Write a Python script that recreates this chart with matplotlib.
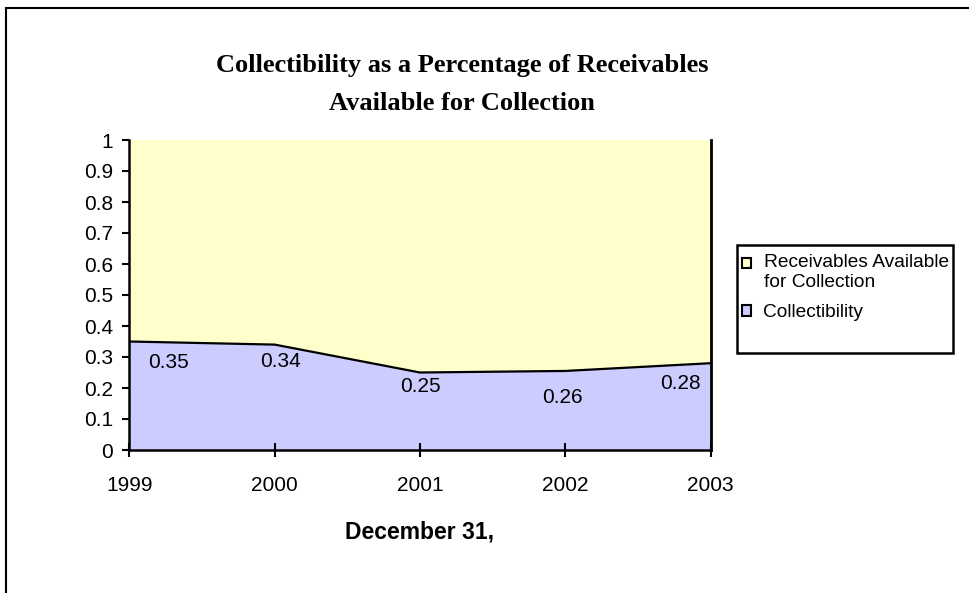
import matplotlib.pyplot as plt
from matplotlib.patches import Rectangle

years = [1999, 2000, 2001, 2002, 2003]
collectibility = [0.35, 0.34, 0.25, 0.255, 0.28]
value_labels = ["0.35", "0.34", "0.25", "0.26", "0.28"]
available = [1.0, 1.0, 1.0, 1.0, 1.0]
title_lines = ["Collectibility as a Percentage of Receivables",
               "Available for Collection"]

yellow = "#FFFFCC"
lavender = "#CCCCFF"
W, H = 969, 593

plt.rcParams["font.family"] = ["Liberation Sans", "DejaVu Sans"]


def fx(px):
    return px / W


def fy(py):
    return 1 - py / H


fig = plt.figure(figsize=(W / 100, H / 100), dpi=100)
ax = fig.add_axes([fx(129.3), fy(450), (710.7 - 129.3) / W, 310 / H])

# stacked area: collectibility on the bottom, remainder up to 1.0 on top
ax.fill_between(years, 0, available, color=yellow, lw=0,
                label="Receivables Available\nfor Collection")
ax.fill_between(years, 0, collectibility, color=lavender, lw=0,
                label="Collectibility")
ax.plot(years, collectibility, color="black", lw=1.6)
ax.plot([years[-1], years[-1]], [0, available[-1]], color="black", lw=2,
        clip_on=False)

# data labels, nudged below the line (x shift, y shift in points)
nudges = [(27.9, -14.8), (3.9, -12.5), (0, -10.4), (-2.3, -19.4), (-22.1, -14.3)]
for x, y, txt, (dx, dy) in zip(years, collectibility, value_labels, nudges):
    ax.annotate(txt, (x, y), xytext=(dx, dy), textcoords="offset points",
                ha="center", va="center", fontsize=15)

ax.set_xlim(years[0], years[-1])
ax.set_ylim(0, 1)
ax.set_xticks(years)
ax.set_xticklabels([str(y) for y in years])
ax.set_yticks([i / 10 for i in range(11)])
ax.set_yticklabels(["0"] + [f"0.{i}" for i in range(1, 10)] + ["1"])
ax.tick_params(axis="y", direction="out", length=5, width=1.5, labelsize=15, pad=6.5)
ax.tick_params(axis="x", direction="inout", length=10, width=1.5, labelsize=15, pad=14)

for side in ["top", "right"]:
    ax.spines[side].set_visible(False)
for side in ["left", "bottom"]:
    ax.spines[side].set_linewidth(1.8)

ax.set_xlabel("December 31,", fontsize=16.5, fontweight="bold")
ax.xaxis.set_label_coords((420 - 129.3) / 581.4, (450 - 520) / 310)

serif = ["Liberation Serif", "DejaVu Serif"]
fig.text(fx(462), fy(72), title_lines[0], ha="center", va="baseline",
         fontsize=19, fontweight="bold", family=serif)
fig.text(fx(462), fy(110), title_lines[1], ha="center", va="baseline",
         fontsize=19, fontweight="bold", family=serif)

# legend frame drawn separately so it keeps the empty space at the bottom
fig.patches.append(Rectangle((fx(737), fy(353)), (953 - 737) / W, 108 / H,
                             transform=fig.transFigure, facecolor="white",
                             edgecolor="black", lw=1.8))
handles, labels = ax.get_legend_handles_labels()
leg = fig.legend(handles, labels, loc="upper left",
                 bbox_to_anchor=(fx(740.5), fy(252.5)),
                 frameon=False, fontsize=13.8,
                 handlelength=0.45, handleheight=0.45, handletextpad=0.65,
                 borderpad=0.1, labelspacing=0.7, borderaxespad=0)
for t in leg.get_texts():
    t.set_linespacing(1.2)
for h in leg.legend_handles:
    h.set_edgecolor("black")
    h.set_linewidth(1.5)
# put the first swatch level with the first line of its two-line label
first = leg.legend_handles[0]
first.set_y(first.get_y() + 6.8)

# outer chart border running off the right and bottom edges
fig.patches.append(Rectangle((fx(6), -0.1), 1.2, fy(8) + 0.1,
                             transform=fig.transFigure, fill=False,
                             edgecolor="black", lw=1.5))

fig.savefig("out.png", dpi=100)
